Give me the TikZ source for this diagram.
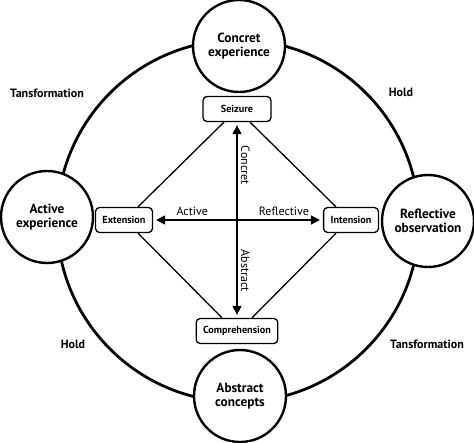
\documentclass[tikz,border=0pt]{standalone}
\usepackage{fontspec}
\setmainfont{PT Sans}
\usetikzlibrary{arrows.meta}
\begin{document}
\begin{tikzpicture}[x=1pt,y=-1pt,line join=round,
	mode/.style={circle,draw,line width=2.4pt,fill=white,minimum size=92pt,inner sep=0pt,align=center,font=\fontsize{13.3}{14.5}\selectfont\bfseries},
	stage/.style={draw,line width=1.3pt,rounded corners=4pt,fill=white,inner xsep=7pt,minimum height=25pt,font=\fontsize{10.2}{11}\selectfont\bfseries},
	side/.style={font=\fontsize{12}{13}\selectfont\bfseries},
	axis/.style={font=\fontsize{12}{13}\selectfont},
	dual/.style={line width=1.3pt,{Triangle[length=9pt,width=9pt]}-{Triangle[length=9pt,width=9pt]},shorten <=3pt,shorten >=3pt}]
	\useasboundingbox (0,0) rectangle (474,442);
	%\draw[help lines] (0,0) grid[step=50pt] (474,442);
	\draw[line width=2.8pt] (238,221) circle (181pt);
	\node[mode] (CE) at (239,46) {Concret\\experience};
	\node[mode] (AC) at (240,396) {Abstract\\concepts};
	\node[mode] (AE) at (47,217) {Active\\experience};
	\node[mode] (RO) at (428,221) {Reflective\\observation};
	\node[stage,minimum width=68pt] (S) at (237,109) {Seizure};
	\node[stage] (E) at (124,220) {Extension};
	\node[stage] (I) at (351,220) {Intension};
	\node[stage] (C) at (237,331) {Comprehension};
	\draw[line width=1.3pt] ([xshift=-13pt]S.south)--([xshift=14pt]E.north);
	\draw[line width=1.3pt] ([xshift=13pt]S.south)--([xshift=-15pt]I.north);
	\draw[line width=1.3pt] ([xshift=14pt]E.south)--([xshift=-15pt]C.north);
	\draw[line width=1.3pt] ([xshift=-15pt]I.south)--([xshift=15pt]C.north);
	\draw[dual] (E)--(I) node[axis,pos=0.23,above]{Active} node[axis,pos=0.77,above]{Reflective};
	\draw[dual] (S)--(C) node[axis,pos=0.22,rotate=-90,anchor=south]{Concret} node[axis,pos=0.76,rotate=-90,anchor=south]{Abstract};
	\node[side] (T1) at (47,93) {Tansformation};
	\node[side] (H1) at (401,92) {Hold};
	\node[side] (H2) at (73,344) {Hold};
	\node[side] (T2) at (427,344) {Tansformation};
\end{tikzpicture}
\end{document}
